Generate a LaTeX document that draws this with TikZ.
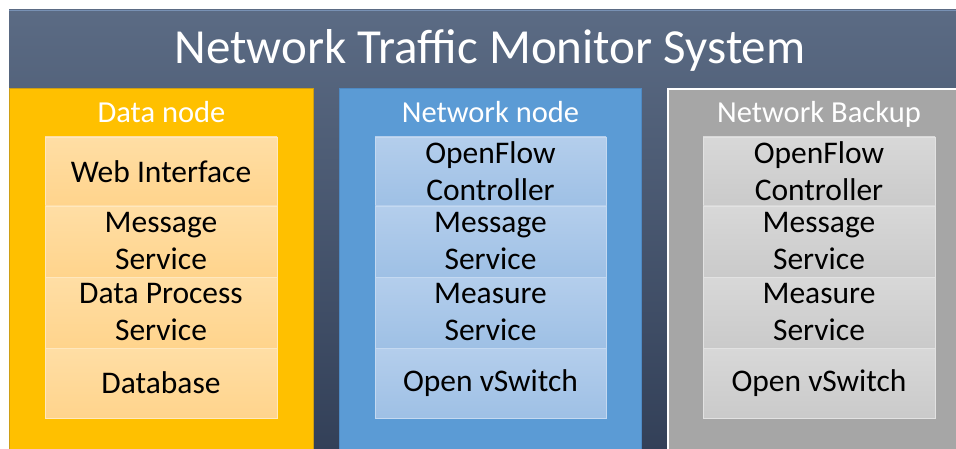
\documentclass[tikz,border=0pt]{standalone}
\usepackage{fontspec}
\setmainfont{Carlito}
\definecolor{bgTop}{RGB}{91,107,132}
\definecolor{bgBot}{RGB}{50,63,87}
\definecolor{dataFill}{RGB}{255,192,0}
\definecolor{dataEdge}{RGB}{205,158,20}
\definecolor{netFill}{RGB}{91,155,213}
\definecolor{netEdge}{RGB}{78,138,196}
\definecolor{bakFill}{RGB}{166,166,166}
\definecolor{dataCellTop}{RGB}{255,222,165}
\definecolor{dataCellBot}{RGB}{255,212,140}
\definecolor{dataCellEdge}{RGB}{255,232,190}
\definecolor{netCellTop}{RGB}{180,206,236}
\definecolor{netCellBot}{RGB}{158,192,229}
\definecolor{netCellEdge}{RGB}{196,217,241}
\definecolor{bakCellTop}{RGB}{216,216,216}
\definecolor{bakCellBot}{RGB}{202,202,202}
\definecolor{bakCellEdge}{RGB}{226,226,226}
\tikzset{
  titletext/.style={text=white, font=\fontsize{49}{59}\selectfont, inner sep=0pt},
  hdrtext/.style={text=white, font=\fontsize{30.5}{36}\selectfont, inner sep=0pt},
  cellbase/.style={minimum height=#1, inner sep=0pt, align=center,
    font=\fontsize{31.5}{37}\selectfont, text=black, line width=0.8pt},
  datacell/.style={cellbase=#1, minimum width=232pt,
    top color=dataCellTop, bottom color=dataCellBot, draw=dataCellEdge},
  netcell/.style={cellbase=#1, minimum width=231pt,
    top color=netCellTop, bottom color=netCellBot, draw=netCellEdge},
  bakcell/.style={cellbase=#1, minimum width=232pt,
    top color=bakCellTop, bottom color=bakCellBot, draw=bakCellEdge},
}
\begin{document}
\begin{tikzpicture}[x=1pt,y=-1pt]
  \useasboundingbox (0,0) rectangle (956,449);
  \fill[white] (0,0) rectangle (956,449);
  \clip (0,0) rectangle (956,449);

  % dark backdrop with the system title
  \shade[top color=bgTop, bottom color=bgBot] (9,10) rectangle (970,460);
  \draw[color={rgb,255:red,120;green,145;blue,180}, line width=0.8pt] (9,10.4) -- (970,10.4);
  \node[titletext, anchor=base] (title) at (490,64) {Network Traffic Monitor System};

  % the three columns
  \draw[fill=dataFill, draw=dataEdge, line width=1pt] (9.5,88.5) rectangle (313,470);
  \draw[fill=netFill, draw=netEdge, line width=1pt] (339.5,88.5) rectangle (641,470);
  \draw[fill=bakFill, draw=white, line width=2pt] (668,89) rectangle (971,470);

  \node[hdrtext, anchor=base] (hdata) at (161.5,123) {Data node};
  \node[hdrtext, anchor=base] (hnet) at (490.5,123) {Network node};
  \node[hdrtext, anchor=base] (hbak) at (819,123) {Network Backup};

  % data node stack
  \node[datacell=69pt] (d1) at (161,171.5) {Web Interface};
  \node[datacell=71pt] (d2) at (161,241.5) {Message\\Service};
  \node[datacell=71pt] (d3) at (161,312.5) {Data Process\\Service};
  \node[datacell=70pt] (d4) at (161,383) {Database};

  % network node stack
  \node[netcell=69pt] (n1) at (490.5,171.5) {OpenFlow\\Controller};
  \node[netcell=71pt] (n2) at (490.5,241.5) {Message\\Service};
  \node[netcell=71pt] (n3) at (490.5,312.5) {Measure\\Service};
  \node[netcell=70pt] (n4) at (490.5,383.5) {Open vSwitch};

  % backup node stack
  \node[bakcell=69pt] (b1) at (819,171.5) {OpenFlow\\Controller};
  \node[bakcell=71pt] (b2) at (819,241.5) {Message\\Service};
  \node[bakcell=71pt] (b3) at (819,312.5) {Measure\\Service};
  \node[bakcell=70pt] (b4) at (819,383.5) {Open vSwitch};
\end{tikzpicture}
\end{document}
